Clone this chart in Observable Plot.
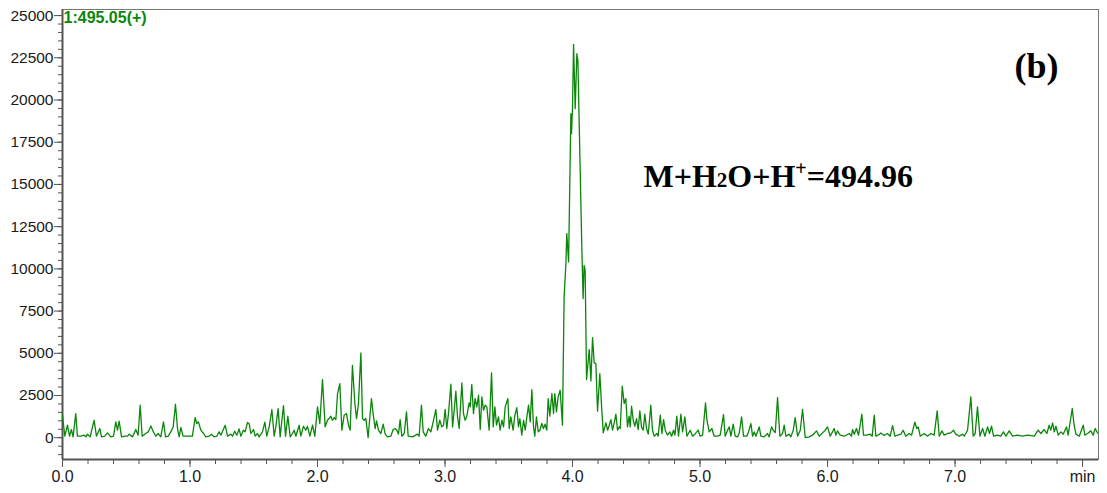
<!DOCTYPE html>
<html>
<head>
<meta charset="utf-8">
<script src="https://cdn.jsdelivr.net/npm/d3@7"></script>
<script src="https://cdn.jsdelivr.net/npm/@observablehq/plot@0.6"></script>
<style>
  html, body { margin: 0; padding: 0; background: #fff; }
  #chart svg { display: block; }
</style>
</head>
<body>
<div id="chart"></div>
<script>
// Extracted ion chromatogram, m/z 495.05 (positive mode): retention time (min) vs intensity
const retentionTime = [
  0.000,0.018,0.039,0.055,0.070,0.083,0.104,0.117,0.144,0.170,0.183,0.196,0.217,0.248,0.266,0.293,0.306,0.332,0.353,0.379,
  0.400,0.418,0.431,0.444,0.463,0.489,0.510,0.523,0.549,0.575,0.593,0.609,0.625,0.653,0.672,0.693,0.713,0.732,0.750,0.771,
  0.792,0.808,0.829,0.849,0.868,0.886,0.902,0.915,0.928,0.946,0.980,1.019,1.040,1.053,1.066,1.085,1.106,1.124,1.150,1.168,
  1.189,1.210,1.228,1.242,1.276,1.294,1.320,1.333,1.351,1.367,1.385,1.398,1.419,1.432,1.451,1.464,1.477,1.498,1.511,1.529,
  1.542,1.568,1.587,1.602,1.621,1.642,1.660,1.673,1.691,1.707,1.733,1.749,1.767,1.786,1.804,1.817,1.830,1.856,1.869,1.890,
  1.908,1.921,1.940,1.961,1.979,
  2.000,2.018,2.039,2.060,2.078,2.091,2.104,2.117,2.131,2.144,2.157,2.175,2.191,2.209,2.227,2.243,2.256,2.274,2.293,2.306,
  2.321,2.340,2.353,2.366,2.379,2.397,2.423,2.436,2.452,2.463,2.478,2.497,2.515,2.531,2.549,2.575,2.593,2.609,2.622,2.635,
  2.648,2.661,2.680,2.698,2.711,2.745,2.784,2.797,2.815,2.829,2.849,2.870,2.889,2.907,2.928,2.941,2.959,2.975,2.988,3.001,
  3.014,3.027,3.046,3.059,3.072,3.085,3.098,3.111,3.132,3.145,3.158,3.171,3.189,3.197,3.210,3.223,3.236,3.249,3.263,3.276,
  3.289,3.302,3.315,3.328,3.346,3.365,3.378,3.391,3.404,3.419,3.432,3.446,3.459,3.472,3.493,3.503,3.516,3.534,3.548,3.563,
  3.576,3.587,3.602,3.616,3.629,3.642,3.655,3.668,3.681,3.694,3.704,3.717,3.731,3.744,3.759,3.772,3.785,3.798,3.809,3.822,
  3.838,3.851,3.861,3.874,3.887,3.903,3.921,
  3.934,3.948,3.955,3.969,3.987,3.992,4.000,4.008,4.021,4.034,4.042,4.060,4.073,4.083,4.091,4.099,4.110,4.131,4.144,4.157,
  4.170,4.183,4.196,4.214,4.228,4.241,
  4.262,4.275,4.288,4.301,4.314,4.327,4.340,4.353,4.366,4.374,4.390,4.405,4.418,4.431,4.444,4.452,4.463,4.476,4.489,4.502,
  4.515,4.528,4.541,4.554,4.567,4.580,4.594,4.614,4.627,4.641,4.662,4.672,4.688,4.701,4.714,4.727,4.745,4.763,4.777,4.792,
  4.803,4.818,4.831,4.850,4.863,4.881,4.897,4.923,4.941,4.960,4.986,5.001,5.020,5.043,5.054,5.072,5.093,5.111,5.137,5.158,
  5.184,5.197,5.216,5.229,5.242,5.260,5.276,5.294,5.307,5.326,5.341,5.367,5.380,5.399,5.412,5.425,5.438,5.464,5.477,5.503,
  5.529,5.542,5.561,5.574,5.590,5.608,5.626,5.647,5.660,5.673,5.699,5.712,5.731,5.746,5.765,5.786,5.804,5.825,5.856,5.882,
  5.914,5.935,5.961,5.982,6.000,6.021,6.052,
  6.065,6.078,6.099,6.131,6.170,6.188,6.196,6.209,6.227,6.243,6.269,6.282,6.308,6.334,6.350,6.366,6.379,6.397,6.418,6.444,
  6.470,6.491,6.510,6.528,6.549,6.575,6.593,6.614,6.640,6.659,6.685,6.700,6.711,6.727,6.758,6.784,6.810,6.836,6.860,6.876,
  6.897,6.915,6.941,6.967,6.988,7.006,7.033,7.059,7.072,7.098,7.124,7.142,7.158,7.176,7.195,7.216,7.234,7.255,7.270,7.286,
  7.302,7.333,7.359,7.380,7.399,7.425,7.451,7.490,7.529,7.568,7.621,7.652,7.673,7.699,7.720,7.738,7.751,7.765,7.778,7.791,
  7.809,7.830,7.848,7.874,7.887,7.919,7.934,7.948,7.974,8.005,8.018,8.039,8.065,8.083,8.099,8.117,8.130
];
const intensity = [
  1330,90,740,90,485,50,1430,90,90,150,50,210,50,1035,90,545,50,90,285,50,
  90,940,445,980,50,90,90,210,50,485,150,1925,90,250,345,700,345,90,250,50,
  940,50,90,345,640,1985,545,50,605,90,90,90,1195,840,940,445,250,50,90,210,
  50,90,345,150,740,90,210,90,385,150,525,90,445,345,900,840,250,485,90,250,
  50,345,920,90,640,1670,90,640,1725,50,1905,90,1275,50,250,445,90,740,90,680,
  445,680,90,740,90,
  1825,840,3445,640,1035,1135,1275,1035,1195,1075,2615,3205,445,1335,1430,740,445,4290,2025,1135,
  2025,5020,1135,1035,1135,10,2320,1430,545,995,445,250,800,210,50,90,485,545,445,210,
  1075,90,250,1530,90,50,210,90,1925,345,90,545,345,940,1670,445,1035,640,740,1670,
  545,1430,3170,640,1630,2755,1235,545,3245,1430,1035,1275,2065,1825,3150,1430,2320,1825,2515,485,
  2420,1630,1925,1825,445,3840,640,1825,740,1235,445,1035,640,1825,2320,545,1235,445,1335,1785,
  640,1135,150,1035,445,1235,1925,940,2850,640,90,1235,345,445,840,545,800,445,2320,1275,
  2615,1430,2615,1530,2420,2810,740,
  8340,10310,12090,10410,19190,18010,19590,23295,19490,22740,22350,15840,11200,8240,10210,9920,3445,5220,3365,5930,
  4430,4390,1570,3800,1825,285,
  880,445,740,1075,445,880,1390,445,640,545,3050,2025,2320,640,1275,640,1865,1035,680,1135,
  485,1590,640,445,1390,545,210,1925,445,90,250,90,1335,250,1075,445,150,345,90,445,
  150,1275,90,1390,345,1235,90,445,90,210,445,90,150,2065,1035,345,545,90,90,150,
  1370,90,445,640,90,800,90,50,250,1235,90,90,345,840,90,345,90,640,90,50,
  250,50,640,445,305,2380,90,250,740,90,210,50,445,1195,90,445,1670,10,50,150,
  405,90,285,445,640,90,545,
  150,405,150,90,250,90,485,210,545,150,1390,150,150,210,90,1330,90,150,285,130,
  250,90,720,90,150,210,445,90,250,150,920,545,640,90,250,90,250,150,1590,90,
  405,150,250,285,445,210,90,210,90,445,2415,90,250,1825,90,545,90,640,250,680,
  90,150,90,345,90,405,90,150,90,150,90,445,250,485,250,740,445,880,345,680,
  150,345,210,640,150,1730,740,210,90,740,150,250,405,150,545,285,250
];

// Axis ticks and labels
const xMajorTicks = [0, 1, 2, 3, 4, 5, 6, 7, 8];
const xTickLabels = ["0.0", "1.0", "2.0", "3.0", "4.0", "5.0", "6.0", "7.0", "min"];
const xMinorTicks = d3.range(0, 41).map(i => i / 5);
const yMajorTicks = [0, 2500, 5000, 7500, 10000, 12500, 15000, 17500, 20000, 22500, 25000];
const yMinorTicks = d3.range(-2, 51).map(i => i * 500);
const xDomain = [0, 8.125];
const yDomain = [-1290, 25360];

// Labels
const traceLabel = "1:495.05(+)";
const ionLabel = "M+H\u2082O+H\u207A=494.96";
const ionParts = [["M+H", ""], ["2", "sub"], ["O+H", ""], ["+", "sup"], ["=494.96", ""]];
const panelLabel = "(b)";

const rows = retentionTime.map((t, i) => ({t, v: intensity[i]}));

const traceColor = "#0a860a";
const sans = "'Liberation Sans', Arial, Helvetica, sans-serif";
const serif = "'Liberation Serif', 'Times New Roman', Times, serif";

const chart = Plot.plot({
  width: 1107,
  height: 493,
  marginLeft: 62,
  marginRight: 9,
  marginTop: 9,
  marginBottom: 34,
  style: {fontFamily: sans, fontSize: "15px", background: "#fff", color: "#1a1a1a"},
  x: {domain: xDomain, axis: null, label: null},
  y: {domain: yDomain, axis: null, label: null},
  marks: [
    Plot.frame({stroke: "#777", strokeWidth: 1}),
    Plot.ruleX([xDomain[0]], {stroke: "#555", strokeWidth: 2}),
    Plot.ruleY([yDomain[0]], {stroke: "#555", strokeWidth: 2}),
    Plot.axisY(yMinorTicks, {tickSize: 4, tickFormat: () => "", stroke: "#555", label: null}),
    Plot.axisY(yMajorTicks, {tickSize: 8, tickPadding: 1, stroke: "#555", fill: "#1a1a1a",
      tickFormat: d => String(d), fontSize: 15.5, label: null}),
    Plot.axisX(xMinorTicks, {tickSize: 5, tickFormat: () => "", stroke: "#555", label: null}),
    Plot.axisX(xMajorTicks, {tickSize: 8, tickPadding: 3, stroke: "#555", fill: "#1a1a1a",
      tickFormat: d => xTickLabels[xMajorTicks.indexOf(d)], fontSize: 16, label: null}),
    Plot.line(rows, {x: "t", y: "v", stroke: traceColor, strokeWidth: 1.3, clip: true}),
    Plot.text([traceLabel], {frameAnchor: "top-left", textAnchor: "start", lineAnchor: "top",
      dx: 1, dy: 2, fill: traceColor, fontWeight: "bold", fontSize: 16, fontFamily: sans}),
    Plot.text([ionLabel], {frameAnchor: "top-left", textAnchor: "start", lineAnchor: "bottom",
      dx: 581, dy: 177, fill: "#000", fontWeight: "bold", fontSize: 32, fontFamily: serif}),
    Plot.text([panelLabel], {frameAnchor: "top-right", textAnchor: "end", lineAnchor: "bottom",
      dx: -40, dy: 68, fill: "#000", fontWeight: "bold", fontSize: 36, fontFamily: serif})
  ]
});

// Typeset the subscript 2 and superscript + of the ion formula
for (const el of chart.querySelectorAll("text")) {
  if (el.textContent !== ionLabel) continue;
  el.textContent = "";
  let shifted = false;
  for (const [str, kind] of ionParts) {
    const ts = document.createElementNS("http://www.w3.org/2000/svg", "tspan");
    ts.textContent = str;
    if (kind === "sub") ts.setAttribute("font-size", "21");
    if (kind === "sup") { ts.setAttribute("font-size", "20"); ts.setAttribute("dy", "-12"); shifted = true; }
    else if (shifted) { ts.setAttribute("dy", "12"); shifted = false; }
    el.appendChild(ts);
  }
}

document.getElementById("chart").appendChild(chart);
</script>
</body>
</html>
